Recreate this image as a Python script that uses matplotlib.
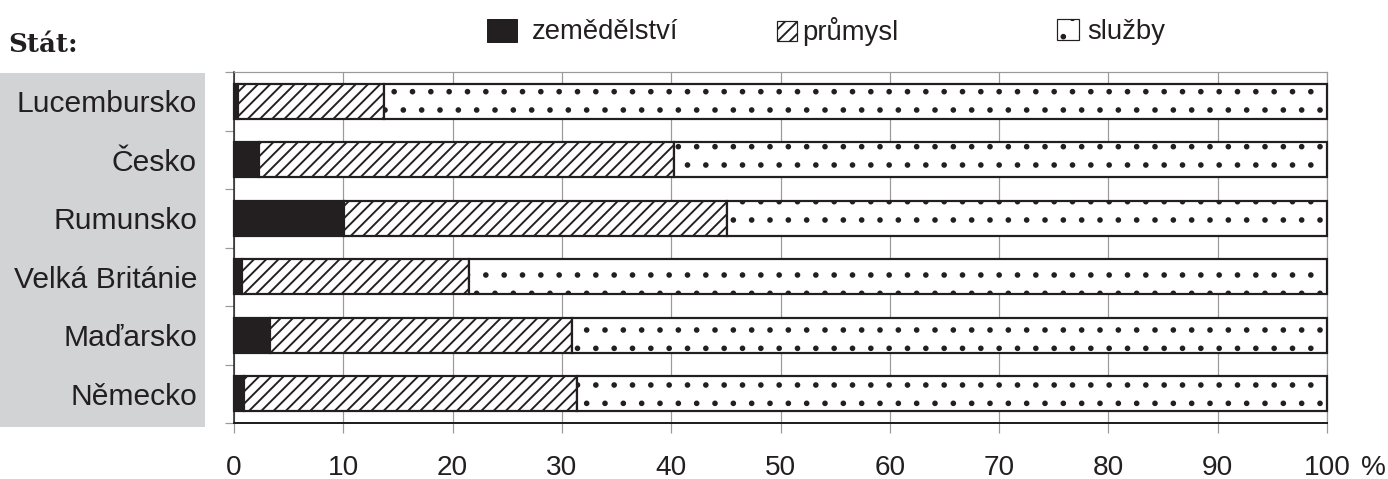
import matplotlib
matplotlib.use('Agg')
import matplotlib.pyplot as plt
from matplotlib.patches import Patch, Rectangle

# ---- data ----
countries = ['Lucembursko', 'Česko', 'Rumunsko', 'Velká Británie', 'Maďarsko', 'Německo']
zemedelstvi = [0.4, 2.3, 10.1, 0.7, 3.3, 0.9]
prumysl = [13.3, 38.0, 35.0, 20.8, 27.6, 30.5]
sluzby = [86.3, 59.7, 54.9, 78.5, 69.1, 68.6]
xticks = [0, 10, 20, 30, 40, 50, 60, 70, 80, 90, 100]
series_labels = ['zemědělství', 'průmysl', 'služby']

DARK = '#231f20'
GRID = '#9a9a9a'
DPI = 110
W, H = 1388, 479
PT = 72.0 / DPI  # points per pixel

plt.rcParams['font.family'] = ['Liberation Sans', 'DejaVu Sans']
plt.rcParams['hatch.color'] = DARK
plt.rcParams['hatch.linewidth'] = 1.9 * PT

fig = plt.figure(figsize=(W / DPI, H / DPI), dpi=DPI)
fig.patch.set_facecolor('white')

# grey label panel
fig.patches.append(Rectangle((0, 1 - 427 / H), 205 / W, (427 - 73) / H,
                             transform=fig.transFigure, facecolor='#d1d3d4',
                             edgecolor='none', zorder=-5))

ax = fig.add_axes([234 / W, 1 - 423 / H, (1327 - 234) / W, (423 - 72) / H])
ax.set_facecolor('none')
y = list(range(len(countries)))
left2 = zemedelstvi
left3 = [a + b for a, b in zip(zemedelstvi, prumysl)]
bh = 0.6
ax.barh(y, zemedelstvi, height=bh, color=DARK, edgecolor=DARK, lw=2.2 * PT,
        zorder=3, clip_on=False)
ax.barh(y, prumysl, left=left2, height=bh, color='white', edgecolor=DARK,
        hatch='///', lw=2.2 * PT, zorder=3, clip_on=False)
ax.barh(y, sluzby, left=left3, height=bh, color='white', edgecolor=DARK,
        hatch='.', lw=2.2 * PT, zorder=3, clip_on=False)

ax.set_xlim(0, 100)
ax.set_ylim(len(countries) - 0.5, -0.5)
ax.set_xticks(xticks)
ax.set_xticklabels([str(v) for v in xticks], fontsize=28 * PT, color=DARK)
ax.grid(axis='x', color=GRID, lw=1.2 * PT, zorder=0)
ax.set_axisbelow(True)
ax.tick_params(axis='x', length=10 * PT, width=1.2 * PT, color=GRID,
               pad=22 * PT, direction='out')

ax.set_yticks(y)
ax.set_yticklabels(countries, fontsize=30 * PT, color=DARK)
ax.tick_params(axis='y', which='major', length=0, pad=37 * PT)
ax.set_yticks([i - 0.5 for i in range(len(countries) + 1)], minor=True)
ax.tick_params(axis='y', which='minor', length=9 * PT, width=1.2 * PT,
               color=GRID, direction='out')

for s in ['top', 'right']:
    ax.spines[s].set_color(GRID)
    ax.spines[s].set_linewidth(1.2 * PT)
ax.spines['left'].set_color(DARK)
ax.spines['left'].set_linewidth(1.5 * PT)
ax.spines['bottom'].set_color(DARK)
ax.spines['bottom'].set_linewidth(2 * PT)

ax.annotate('%', xy=(100, 0), xycoords=('data', 'axes fraction'),
            xytext=(34 * PT, -32 * PT), textcoords='offset points',
            ha='left', va='top', fontsize=28 * PT, color=DARK)

fig.text(8 / W, 1 - 45 / H, 'Stát:', family='DejaVu Serif', fontweight='bold',
         fontsize=26 * PT, va='center', ha='left', color=DARK)

# legend (three separate entries)
LFS = 27.5 * PT
handles = [Patch(facecolor=DARK, edgecolor=DARK, lw=1 * PT),
           Patch(facecolor='white', edgecolor=DARK, hatch='///', lw=1.2 * PT),
           Patch(facecolor='white', edgecolor=DARK, hatch='.', lw=1.2 * PT)]
xs = [487, 777, 1057]
hl = [30 / 27.5, 20 / 27.5, 22 / 27.5]
hh = [25 / 27.5, 20 / 27.5, 22 / 27.5]
tp = [15 / 27.5, 5 / 27.5, 8 / 27.5]
for h, lab, xp, a, b, c in zip(handles, series_labels, xs, hl, hh, tp):
    fig.legend(handles=[h], labels=[lab], loc='center left',
               bbox_to_anchor=(xp / W, 1 - 32 / H), frameon=False,
               borderpad=0, borderaxespad=0, fontsize=LFS,
               handlelength=a, handleheight=b, handletextpad=c,
               labelcolor=DARK)

fig.savefig('out.png', dpi=DPI)
